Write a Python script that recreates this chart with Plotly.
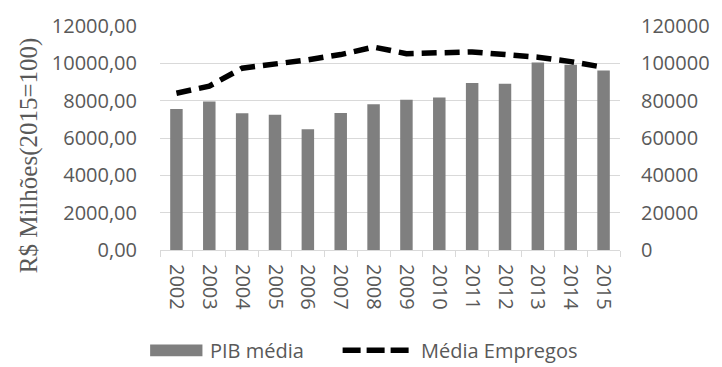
import plotly.graph_objects as go

# Annual series, 2002-2015
years = ["2002", "2003", "2004", "2005", "2006", "2007", "2008",
         "2009", "2010", "2011", "2012", "2013", "2014", "2015"]
pib_media = [7560, 7960, 7320, 7250, 6470, 7340, 7810,
             8050, 8170, 8940, 8900, 10050, 9930, 9620]
media_empregos = [84000, 87800, 97400, 99500, 101900, 104700, 108700,
                  105200, 105500, 106100, 104700, 103300, 100900, 97900]

left_ticks = [0, 2000, 4000, 6000, 8000, 10000, 12000]
right_ticks = [0, 20000, 40000, 60000, 80000, 100000, 120000]

BAR = "#7f7f7f"
GRID = "#d9d9d9"
TXT = "#595959"
FONT = "Open Sans"
SERIF = "Liberation Serif, Times New Roman, serif"

# plot area in pixels (used to place the hand-drawn legend and title)
L, R, T, B = 160, 626, 20, 250
W, H = 722, 367


def px_x(x):
    return (x - L) / (R - L)


def px_y(y):
    return (B - y) / (B - T)


fig = go.Figure()
fig.add_trace(go.Bar(x=years, y=pib_media, name="PIB média",
                     marker=dict(color=BAR, line=dict(width=0)),
                     yaxis="y"))
fig.add_trace(go.Scatter(x=years, y=media_empregos, name="Média Empregos",
                         mode="lines",
                         line=dict(color="black", width=5.5, dash="15px,8px"),
                         yaxis="y2"))

fig.update_layout(
    width=W, height=H,
    margin=dict(l=L, r=W - R, t=T, b=H - B),
    paper_bgcolor="white", plot_bgcolor="white",
    separators=",.",
    showlegend=False,
    bargap=0.62,
    font=dict(family=FONT, size=20, color=TXT),
    xaxis=dict(type="category", tickangle=90, tickson="boundaries",
               ticks="outside", ticklen=6, tickcolor=GRID, tickwidth=1,
               ticklabelstandoff=9,
               showline=True, linecolor=GRID, linewidth=1,
               showgrid=False, tickfont=dict(size=20, color=TXT)),
    yaxis=dict(range=[0, 12000], tickvals=left_ticks, tickformat=".2f",
               showgrid=True, gridcolor=GRID, gridwidth=1,
               zeroline=False, showline=False, ticks="",
               ticklabelstandoff=22,
               tickfont=dict(size=20, color=TXT)),
    yaxis2=dict(range=[0, 120000], tickvals=right_ticks, tickformat="d",
                overlaying="y", side="right", showgrid=False,
                zeroline=False, showline=False, ticks="",
                ticklabelstandoff=20,
                tickfont=dict(size=20, color=TXT)),
)

# left axis title
fig.add_annotation(text="R$ Milhões(2015=100)", xref="paper", yref="paper",
                   x=px_x(27), y=px_y(153), xanchor="center", yanchor="middle",
                   textangle=-90, showarrow=False,
                   font=dict(family=SERIF, size=25, color=TXT))

# legend row
ly = 353
fig.add_shape(type="rect", xref="paper", yref="paper",
              x0=px_x(150), x1=px_x(203), y0=px_y(347), y1=px_y(359),
              fillcolor=BAR, line=dict(width=0))
fig.add_annotation(text="PIB média", xref="paper", yref="paper",
                   x=px_x(209), y=px_y(ly), xanchor="left", yanchor="middle",
                   showarrow=False, font=dict(size=20, color=TXT))
fig.add_shape(type="line", xref="paper", yref="paper",
              x0=px_x(345), x1=px_x(413), y0=px_y(ly), y1=px_y(ly),
              line=dict(color="black", width=5.5, dash="18px,6px"))
fig.add_annotation(text="Média Empregos", xref="paper", yref="paper",
                   x=px_x(422), y=px_y(ly), xanchor="left", yanchor="middle",
                   showarrow=False, font=dict(size=20, color=TXT))

fig.write_html("out.html")
